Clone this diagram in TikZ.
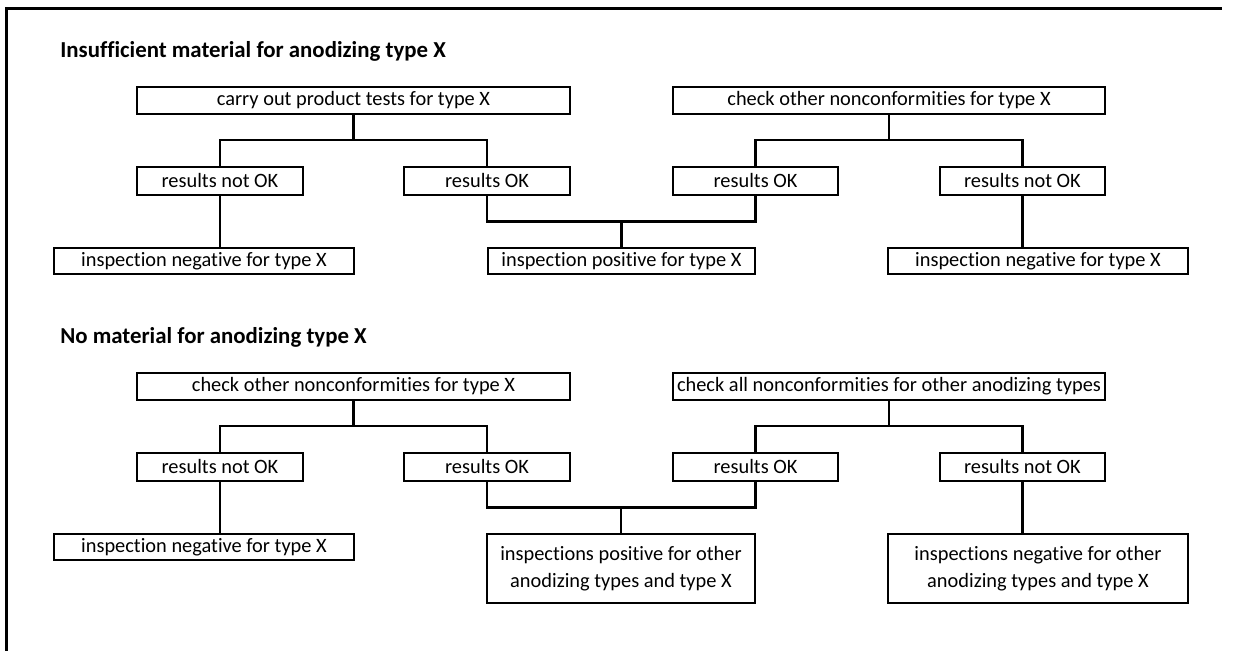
\documentclass[tikz,border=0pt]{standalone}
\usepackage{fontspec}
\setmainfont[Ligatures={NoCommon}]{Carlito}
\tikzset{
  stepbox/.style={draw,line width=1.3pt,inner sep=0pt,minimum height=0.54cm,
    align=center,font=\fontsize{11.6}{15.3}\selectfont},
  headline/.style={anchor=base west,inner sep=0pt,font=\fontsize{13}{15}\selectfont\bfseries},
  link/.style={line width=1.3pt}
}
\begin{document}
\begin{tikzpicture}[x=0.02cm,y=-0.02cm]
\useasboundingbox (0,0) rectangle (1235,651);
\draw [line width=1.6pt] (6.5,651) -- (6.5,8.5) -- (1222,8.5);

\node[headline] (title1) at (60,58) {Insufficient material for anodizing type X};
\node[stepbox,minimum width=8.66cm] (test) at (353.5,100.5) {carry out product tests for type X};
\node[stepbox,minimum width=8.64cm] (other1) at (889,100.5) {check other nonconformities for type X};
\node[stepbox,minimum width=3.32cm,minimum height=0.56cm] (bad1) at (220,181) {results not OK};
\node[stepbox,minimum width=3.32cm,minimum height=0.56cm] (ok1) at (487,181) {results OK};
\node[stepbox,minimum width=3.3cm,minimum height=0.56cm] (ok2) at (755.5,181) {results OK};
\node[stepbox,minimum width=3.3cm,minimum height=0.56cm] (bad2) at (1022.5,181) {results not OK};
\node[stepbox,minimum width=6cm,minimum height=0.52cm] (neg1) at (204,261) {inspection negative for type X};
\node[stepbox,minimum width=5.34cm,minimum height=0.52cm] (pos1) at (621.5,261) {inspection positive for type X};
\node[stepbox,minimum width=6cm,minimum height=0.52cm] (neg2) at (1038,261) {inspection negative for type X};

\draw [link] (test.south) -- (test.south |- 0,140);
\draw [link] (bad1.north) |- (ok1.north |- 0,140) -- (ok1.north);
\draw [link] (other1.south) -- (other1.south |- 0,140);
\draw [link] (ok2.north) |- (bad2.north |- 0,140) -- (bad2.north);
\draw [link] (bad1.south) -- (bad1.south |- neg1.north);
\draw [link] (bad2.south) -- (bad2.south |- neg2.north);
\draw [link] (ok1.south) |- (ok2.south |- 0,221.5) -- (ok2.south);
\draw [link] (pos1.north) -- (pos1.north |- 0,221.5);

\node[headline] (title2) at (60,344) {No material for anodizing type X};
\node[stepbox,minimum width=8.66cm] (other2) at (353.5,386.5) {check other nonconformities for type X};
\node[stepbox,minimum width=8.64cm] (all) at (889,386.5) {check all nonconformities for other anodizing types};
\node[stepbox,minimum width=3.32cm,minimum height=0.56cm] (bad3) at (220,467) {results not OK};
\node[stepbox,minimum width=3.32cm,minimum height=0.56cm] (ok3) at (487,467) {results OK};
\node[stepbox,minimum width=3.3cm,minimum height=0.56cm] (ok4) at (755.5,467) {results OK};
\node[stepbox,minimum width=3.3cm,minimum height=0.56cm] (bad4) at (1022.5,467) {results not OK};
\node[stepbox,minimum width=6cm,minimum height=0.52cm] (neg3) at (204,547) {inspection negative for type X};
\node[stepbox,minimum width=5.36cm,minimum height=1.38cm] (pos2) at (621,568.5) {inspections positive for other\\anodizing types and type X};
\node[stepbox,minimum width=6cm,minimum height=1.38cm] (neg4) at (1038,568.5) {inspections negative for other\\anodizing types and type X};

\draw [link] (other2.south) -- (other2.south |- 0,426);
\draw [link] (bad3.north) |- (ok3.north |- 0,426) -- (ok3.north);
\draw [link] (all.south) -- (all.south |- 0,426);
\draw [link] (ok4.north) |- (bad4.north |- 0,426) -- (bad4.north);
\draw [link] (bad3.south) -- (bad3.south |- neg3.north);
\draw [link] (bad4.south) -- (bad4.south |- neg4.north);
\draw [link] (ok3.south) |- (ok4.south |- 0,507.5) -- (ok4.south);
\draw [link] (pos2.north) -- (pos2.north |- 0,507.5);
\end{tikzpicture}
\end{document}
